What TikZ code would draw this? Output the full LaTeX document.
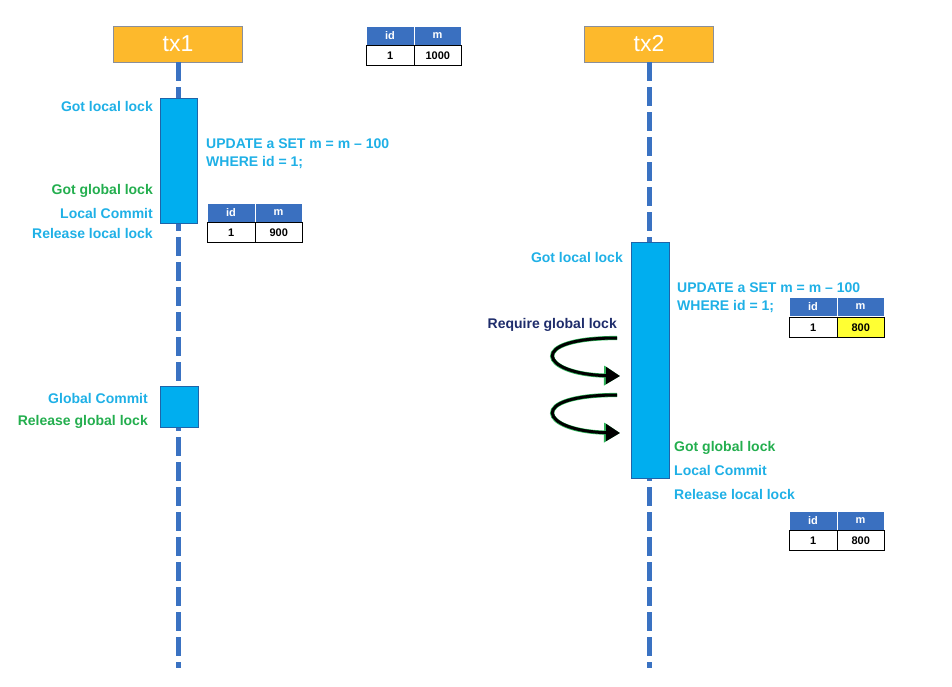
\documentclass[tikz,border=0pt]{standalone}
\usepackage{fontspec}
\setmainfont{Liberation Sans}
\usetikzlibrary{arrows.meta}
\definecolor{txorange}{HTML}{FDB92C}
\definecolor{txborder}{HTML}{8A8F9A}
\definecolor{lineblue}{HTML}{3A72C2}
\definecolor{actcyan}{HTML}{00AEEF}
\definecolor{actborder}{HTML}{1F64A8}
\definecolor{txtcyan}{HTML}{1FB0E6}
\definecolor{txtgreen}{HTML}{23AE4E}
\definecolor{txtnavy}{HTML}{1E2C6B}
\definecolor{headblue}{HTML}{3A70C0}
\definecolor{cellyellow}{HTML}{FFFF33}
\definecolor{halogreen}{HTML}{2FB45A}
\begin{document}
\begin{tikzpicture}[x=1pt,y=-1pt,
  txbox/.style={draw=txborder, line width=0.8pt, fill=txorange, minimum width=129pt, minimum height=36pt, inner sep=0pt, text=white, font=\fontsize{23}{26}\selectfont},
  lifeline/.style={draw=lineblue, line width=5pt, dash pattern=on 19pt off 6pt},
  act/.style={draw=actborder, line width=0.8pt, fill=actcyan, inner sep=0pt, anchor=north west},
  lbl/.style={font=\bfseries\fontsize{14}{18}\selectfont, inner sep=0pt},
  cy/.style={lbl, text=txtcyan},
  gr/.style={lbl, text=txtgreen},
  th/.style={fill=headblue, draw=white, line width=0.4pt, text=white, minimum width=47.5pt, minimum height=19pt, inner sep=0pt, anchor=north west, font=\bfseries\fontsize{11}{13}\selectfont},
  td/.style={fill=white, draw=black, line width=1pt, minimum width=47.5pt, minimum height=20pt, inner sep=0pt, anchor=north west, font=\bfseries\fontsize{11}{13}\selectfont},
  halo/.style={draw=halogreen, line width=4.2pt, -{Triangle[length=16pt,width=19pt]}},
  spin/.style={draw=black, line width=3pt, -{Triangle[length=14pt,width=16.5pt]}}
]
\useasboundingbox (0,0) rectangle (952,686);

% transaction heads
\node[txbox] (tx1) at (178,44) {tx1};
\node[txbox] (tx2) at (649,44) {tx2};

% lifelines
\coordinate (end1) at (178,668);
\coordinate (end2) at (649,668);
\draw[lifeline] (tx1.south) -- (end1);
\draw[lifeline] (tx2.south) -- (end2);

% initial table
\node[th] (t0h1) at (366,26) {id};
\node[th] (t0h2) at (413.5,26) {m};
\node[td] (t0c1) at (366,45) {1};
\node[td] (t0c2) at (413.5,45) {1000};

% tx1 activation boxes
\node[act, minimum width=37pt, minimum height=125pt] (a1) at (160,98) {};
\node[act, minimum width=38pt, minimum height=41pt] (a2) at (160,386) {};

% tx1 labels
\node[cy, anchor=east] (l1) at (153,106) {Got local lock};
\node[gr, anchor=east] (l2) at (153,191) {Got global lock};
\node[cy, anchor=east] (l3) at (153,213) {Local Commit};
\node[cy, anchor=east] (l4) at (153,233) {Release local lock};
\node[cy, anchor=west, align=left] (u1) at (206,154) {UPDATE a SET m = m -- 100\\WHERE id = 1;};
\node[cy, anchor=east] (l5) at (148,398) {Global Commit};
\node[gr, anchor=east] (l6) at (148,422) {Release global lock};

% table after tx1
\node[th] (t1h1) at (207,203) {id};
\node[th] (t1h2) at (254.5,203) {m};
\node[td] (t1c1) at (207,222) {1};
\node[td] (t1c2) at (254.5,222) {900};

% tx2 activation
\node[act, minimum width=38pt, minimum height=236pt] (b1) at (631,242) {};

% tx2 labels
\node[cy, anchor=east] (m1) at (623,257) {Got local lock};
\node[cy, anchor=west, align=left] (u2) at (677,298) {UPDATE a SET m = m -- 100\\WHERE id = 1;};
\node[lbl, text=txtnavy, anchor=east] (m2) at (617,325) {Require global lock};
\node[gr, anchor=west] (m3) at (674,448) {Got global lock};
\node[cy, anchor=west] (m4) at (674,470) {Local Commit};
\node[cy, anchor=west] (m5) at (674,494) {Release local lock};

% table during tx2
\node[th] (t2h1) at (789,297) {id};
\node[th] (t2h2) at (836.5,297) {m};
\node[td] (t2c1) at (789,317) {1};
\node[td, fill=cellyellow] (t2c2) at (836.5,317) {800};

% table after tx2
\node[th] (t3h1) at (789,511) {id};
\node[th] (t3h2) at (836.5,511) {m};
\node[td] (t3c1) at (789,530) {1};
\node[td] (t3c2) at (836.5,530) {800};

% spinning arrows
\coordinate (s1a) at (617,338);
\coordinate (s1b) at (620,376);
\coordinate (s2a) at (617,395);
\coordinate (s2b) at (620,433);
\draw[halo] (s1a) .. controls (525,338) and (540,374) .. (s1b);
\draw[spin] (s1a) .. controls (525,338) and (540,374) .. (s1b);
\draw[halo] (s2a) .. controls (525,395) and (540,431) .. (s2b);
\draw[spin] (s2a) .. controls (525,395) and (540,431) .. (s2b);
\end{tikzpicture}
\end{document}
